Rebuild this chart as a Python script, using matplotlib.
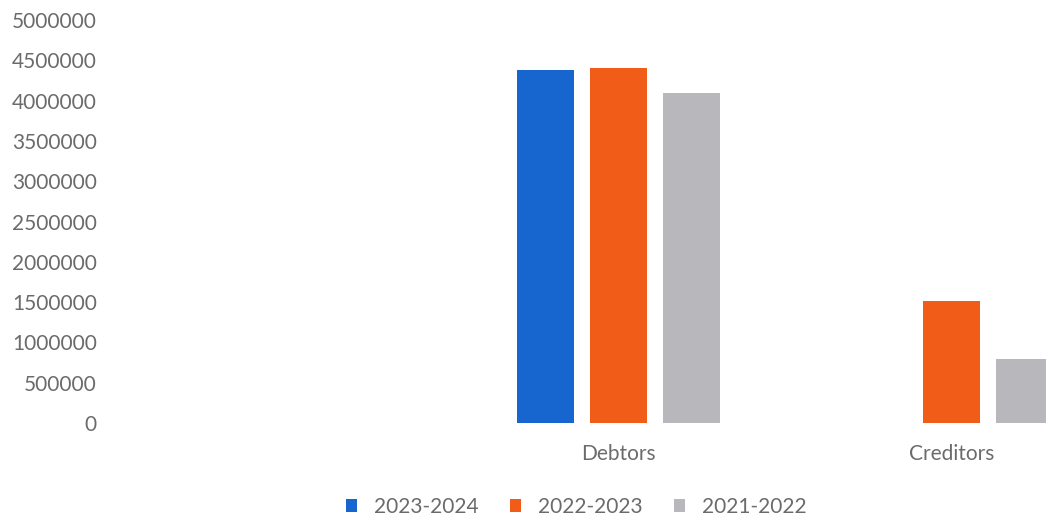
import numpy as np
import matplotlib.pyplot as plt

plt.rcParams['font.family'] = ['Lato', 'DejaVu Sans']

# balances per year
categories = ['', 'Debtors', 'Creditors']
years = ['2023-2024', '2022-2023', '2021-2022']
v_2023_24 = [0, 4380000, 0]
v_2022_23 = [0, 4400000, 1510000]
v_2021_22 = [0, 4090000, 790000]
colors = ['#1766CF', '#F25C19', '#B8B8BC']

fig = plt.figure(figsize=(10.46, 5.21), dpi=100)
ax = fig.add_axes([119/1046, 1-423/521, 1-119/1046, (423-20)/521])

x = np.arange(len(categories))
w = 0.17
step = 0.22
for i, (vals, lab, c) in enumerate(zip([v_2023_24, v_2022_23, v_2021_22], years, colors)):
    ax.bar(x + (i-1)*step, vals, width=w, color=c, label=lab)

ax.set_ylim(0, 5000000)
ax.set_xlim(-0.5, (1046-119)/333 - 0.5)
ax.set_yticks(np.arange(0, 5000001, 500000))
ax.set_yticklabels([str(v) for v in range(0, 5000001, 500000)])
ax.set_xticks(x)
ax.set_xticklabels(categories)
for s in ax.spines.values():
    s.set_visible(False)
ax.tick_params(axis='both', length=0, labelsize=15, labelcolor='#6b6b6b')
ax.tick_params(axis='y', pad=16)
ax.tick_params(axis='x', pad=15)

fig.legend(loc='center', bbox_to_anchor=(576/1046, 1-507/521), ncol=3, frameon=False,
           handlelength=0.55, handleheight=0.55, columnspacing=1.5, handletextpad=0.8,
           fontsize=15, labelcolor='#6b6b6b')

fig.savefig('out.png', dpi=100)
